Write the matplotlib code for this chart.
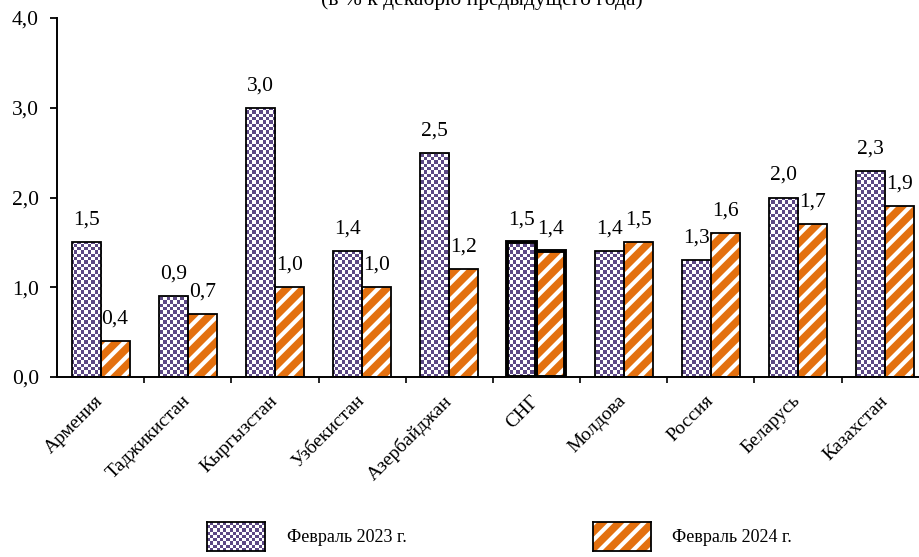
import numpy as np
import matplotlib.pyplot as plt
from matplotlib.colors import ListedColormap

plt.rcParams['font.family'] = ['Liberation Serif', 'DejaVu Serif']
plt.rcParams['hatch.linewidth'] = 3.0

countries = ['Армения', 'Таджикистан', 'Кыргызстан', 'Узбекистан', 'Азербайджан',
             'СНГ', 'Молдова', 'Россия', 'Беларусь', 'Казахстан']
feb2023 = [1.5, 0.9, 3.0, 1.4, 2.5, 1.5, 1.4, 1.3, 2.0, 2.3]
feb2024 = [0.4, 0.7, 1.0, 1.0, 1.2, 1.4, 1.5, 1.6, 1.7, 1.9]
yticks = [0.0, 1.0, 2.0, 3.0, 4.0]
labels_series = ['Февраль 2023 г.', 'Февраль 2024 г.']

purple = '#5C4884'
orange = '#E3700F'
W, H = 920, 557
FS = 15.5

fig = plt.figure(figsize=(W / 100, H / 100), dpi=100)
ax = fig.add_axes([57 / W, (H - 377) / H, (920 - 57) / W, (377 - 18) / H])

x = np.arange(len(countries))
bw = 0.333
xlim = (-0.5, 9.4)
ylim = (0, 4)


def checker(ncols, nrows):
    return (np.add.outer(np.arange(nrows), np.arange(ncols)) % 2)


cmap = ListedColormap(['white', purple])
cell = 3.3
tex = checker(int(863 / cell), int(359 / cell))

bars1 = ax.bar(x - bw / 2, feb2023, bw, color='none', edgecolor='black', linewidth=1.3, zorder=3)
for b in bars1:
    im = ax.imshow(tex, cmap=cmap, extent=(*xlim, *ylim), aspect='auto',
                   interpolation='nearest', zorder=2)
    im.set_clip_path(b)

bars2 = ax.bar(x + bw / 2, feb2024, bw, color=orange, edgecolor='white', linewidth=0,
               hatch='//', zorder=2)
bars2b = ax.bar(x + bw / 2, feb2024, bw, color='none', edgecolor='black', linewidth=1.3, zorder=3)

# СНГ highlighted with thick border
i = countries.index('СНГ')
bars1[i].set_linewidth(2.8)
bars2b[i].set_linewidth(2.8)

for xs, vals in ((x - bw / 2, feb2023), (x + bw / 2, feb2024)):
    for xi, v in zip(xs, vals):
        ax.annotate(f'{v:.1f}'.replace('.', ','), (xi, v), xytext=(0, 9),
                    textcoords='offset points', ha='center', va='bottom', fontsize=FS)

ax.set_xlim(*xlim)
ax.set_ylim(*ylim)
ax.set_yticks(yticks)
ax.set_yticklabels([f'{t:.1f}'.replace('.', ',') for t in yticks], fontsize=FS)
ax.set_xticks(np.arange(0.5, 9.5, 1.0))
ax.set_xticklabels([])
ax.tick_params(axis='x', length=4, width=1.2)
ax.tick_params(axis='y', length=5, width=1.3, pad=8)
for c, name in zip(x, countries):
    ax.text(c - 0.07, -0.17, name, rotation=45, ha='right', va='top',
            rotation_mode='anchor', fontsize=14, transform=ax.transData)
for s in ['top', 'right']:
    ax.spines[s].set_visible(False)
ax.spines['left'].set_linewidth(1.4)
ax.spines['bottom'].set_linewidth(1.4)

fig.text(482 / W, 1.0, '(в % к декабрю предыдущего года)', ha='center', va='center',
         fontsize=FS)

# legend
lg1 = fig.add_axes([207 / W, (H - 551) / H, 58 / W, 29 / H])
lg1.imshow(checker(18, 9), cmap=cmap, aspect='auto', interpolation='nearest')
lg2 = fig.add_axes([593 / W, (H - 551) / H, 58 / W, 29 / H])
lg2.bar([0], [1], 1, color=orange, edgecolor='white', linewidth=0, hatch='//')
lg2.set_xlim(-0.5, 0.5)
lg2.set_ylim(0, 1)
for a in (lg1, lg2):
    a.set_xticks([])
    a.set_yticks([])
    for s in a.spines.values():
        s.set_linewidth(1.3)
fig.text(287 / W, (H - 537) / H, labels_series[0], va='center', fontsize=13)
fig.text(672 / W, (H - 537) / H, labels_series[1], va='center', fontsize=13)

fig.savefig('out.png', dpi=100)
